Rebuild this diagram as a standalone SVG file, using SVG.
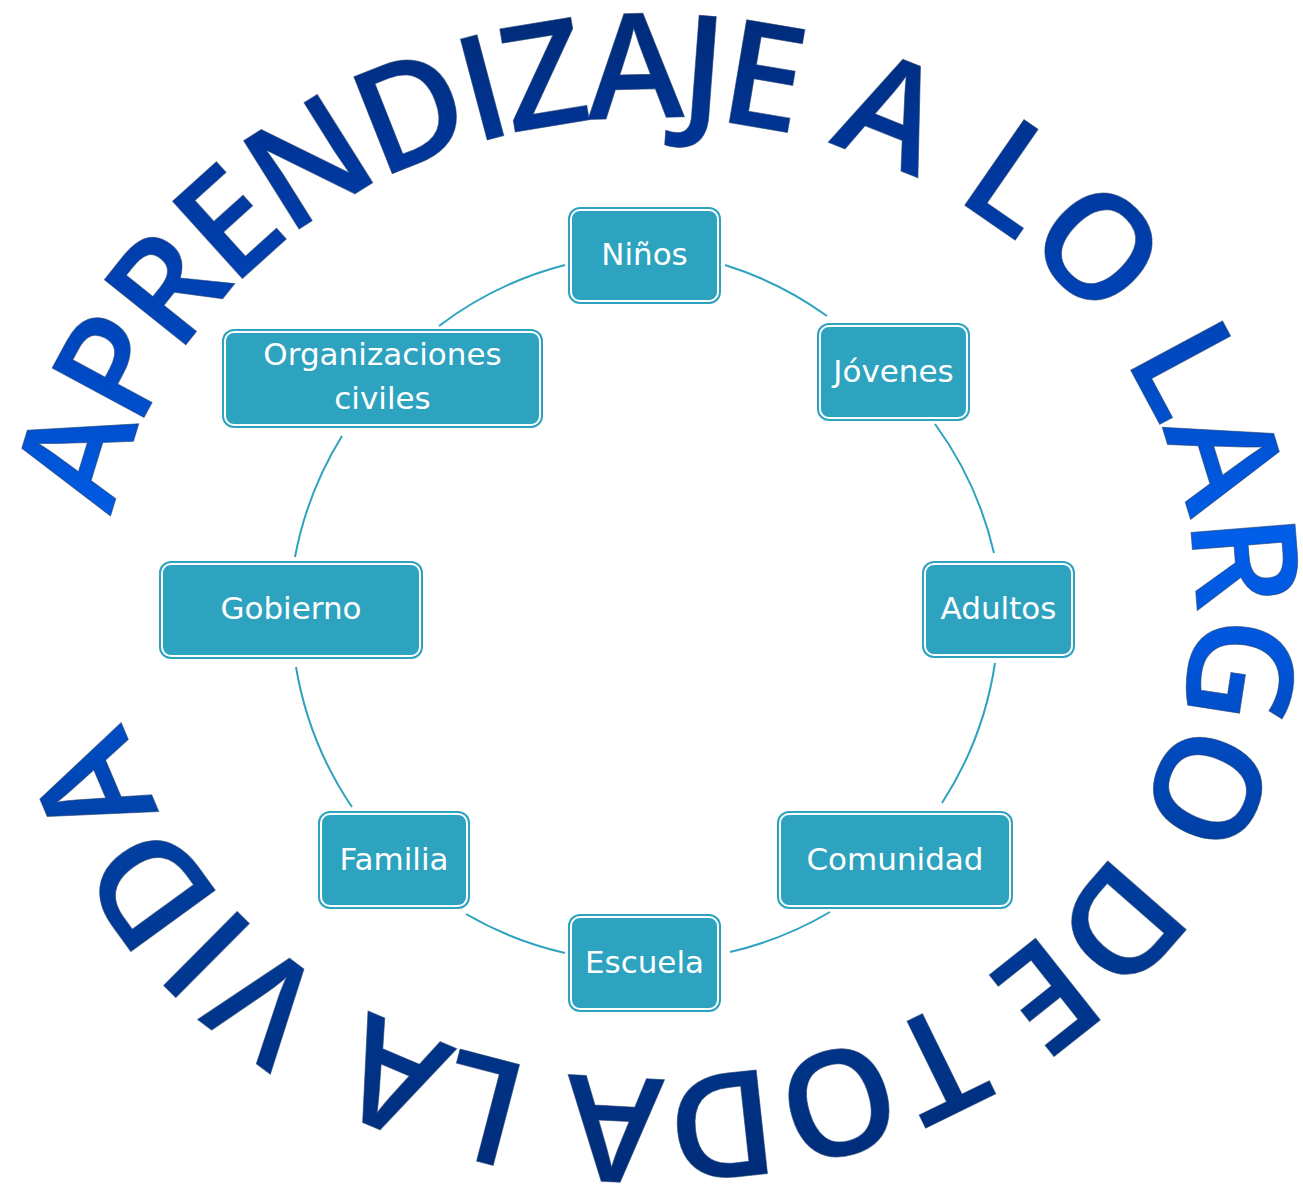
<svg xmlns="http://www.w3.org/2000/svg" width="1303" height="1189" viewBox="0 0 1303 1189">
<style>
.box{fill:#2ea3bf;}
.inner{fill:#2ea3bf;stroke:#ffffff;stroke-width:2;}
.lbl{fill:#ffffff;font-family:"DejaVu Sans",sans-serif;font-size:31px;text-anchor:middle;}
.conn{fill:none;stroke:#2ea3bf;stroke-width:2;}
.wa{font-family:"Open Sans","Liberation Sans",sans-serif;font-weight:600;font-size:146px;fill:url(#wag);stroke:#23406f;stroke-width:1;stroke-opacity:0.6;}
</style>
<defs>
<linearGradient id="wag" gradientUnits="userSpaceOnUse" x1="0" y1="0" x2="0" y2="1189">
<stop offset="0" stop-color="#002a75"/>
<stop offset="0.13" stop-color="#00369a"/>
<stop offset="0.3" stop-color="#0048c0"/>
<stop offset="0.45" stop-color="#005ee9"/>
<stop offset="0.55" stop-color="#0055da"/>
<stop offset="0.72" stop-color="#003e9f"/>
<stop offset="1" stop-color="#002c78"/>
</linearGradient>
<path id="ring" d="M 105 598 A 545 480 0 1 1 1195 598 A 545 480 0 1 1 105 598"/>
</defs>
<g id="title">
<text class="wa"><textPath href="#ring" startOffset="82"><tspan letter-spacing="-6.2">APRENDIZAJE</tspan><tspan letter-spacing="1.2"> A LO </tspan><tspan letter-spacing="-1.2">LARGO DE TODA LA</tspan><tspan letter-spacing="3"> VIDA</tspan></textPath></text>
</g>
<g id="connectors">
<path class="conn" d="M 725 265 A 354 354 0 0 1 827 316"/>
<path class="conn" d="M 935 424 A 354 354 0 0 1 994 553"/>
<path class="conn" d="M 995 663 A 354 354 0 0 1 942 803"/>
<path class="conn" d="M 830 912 A 354 354 0 0 1 730 952"/>
<path class="conn" d="M 565 953 A 354 354 0 0 1 466 914"/>
<path class="conn" d="M 352 807 A 354 354 0 0 1 296 667"/>
<path class="conn" d="M 295 557 A 354 354 0 0 1 342 436"/>
<path class="conn" d="M 439 326 A 354 354 0 0 1 565 265"/>
</g>
<g id="ninos">
<rect class="box" x="568" y="207" width="153" height="97" rx="12"/>
<rect class="inner" x="571" y="210" width="147" height="91" rx="9"/>
<text class="lbl" x="644.5" y="265">Niños</text>
</g>
<g id="jovenes">
<rect class="box" x="817" y="323" width="153" height="98" rx="12"/>
<rect class="inner" x="820" y="326" width="147" height="92" rx="9"/>
<text class="lbl" x="893.5" y="382">Jóvenes</text>
</g>
<g id="adultos">
<rect class="box" x="922" y="561" width="153" height="97" rx="12"/>
<rect class="inner" x="925" y="564" width="147" height="91" rx="9"/>
<text class="lbl" x="998.5" y="619">Adultos</text>
</g>
<g id="comunidad">
<rect class="box" x="777" y="811" width="236" height="98" rx="12"/>
<rect class="inner" x="780" y="814" width="230" height="92" rx="9"/>
<text class="lbl" x="895" y="870">Comunidad</text>
</g>
<g id="escuela">
<rect class="box" x="568" y="914" width="153" height="98" rx="12"/>
<rect class="inner" x="571" y="917" width="147" height="92" rx="9"/>
<text class="lbl" x="644.5" y="973">Escuela</text>
</g>
<g id="familia">
<rect class="box" x="318" y="811" width="152" height="98" rx="12"/>
<rect class="inner" x="321" y="814" width="146" height="92" rx="9"/>
<text class="lbl" x="394" y="870">Familia</text>
</g>
<g id="gobierno">
<rect class="box" x="159" y="561" width="264" height="98" rx="12"/>
<rect class="inner" x="162" y="564" width="258" height="92" rx="9"/>
<text class="lbl" x="291" y="619">Gobierno</text>
</g>
<g id="organizaciones">
<rect class="box" x="222" y="329" width="321" height="99" rx="12"/>
<rect class="inner" x="225" y="332" width="315" height="93" rx="9"/>
<text class="lbl" x="382.5" y="365">Organizaciones</text>
<text class="lbl" x="382.5" y="409">civiles</text>
</g>
</svg>
